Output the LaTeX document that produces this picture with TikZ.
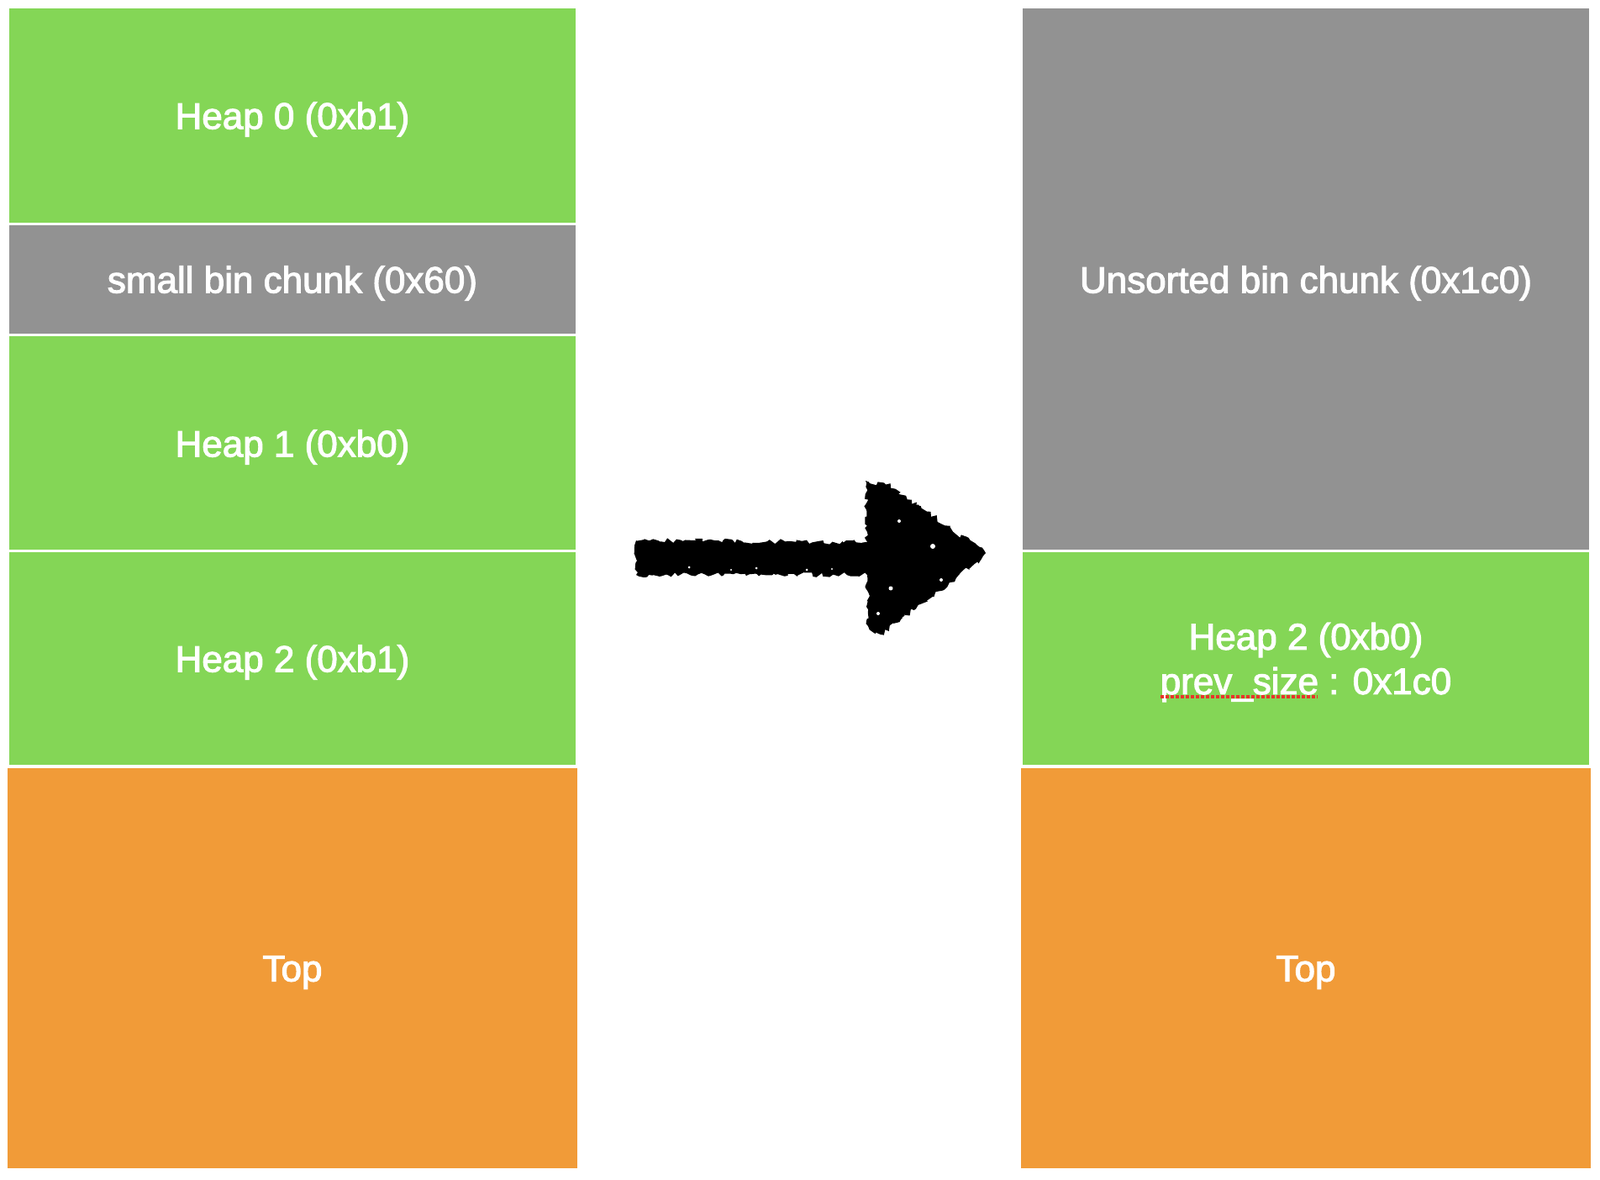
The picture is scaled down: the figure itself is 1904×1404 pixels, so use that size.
\documentclass[tikz,border=0pt]{standalone}
\usepackage{fontspec}
\setmainfont{Liberation Sans}[FakeBold=2.5]
\usetikzlibrary{decorations.pathmorphing}
\definecolor{heapgreen}{HTML}{84D656}
\definecolor{bingray}{HTML}{929292}
\definecolor{toporange}{HTML}{F19B38}
\definecolor{spellred}{HTML}{E8332A}
\tikzset{
  block/.style={inner sep=0pt, font=\fontsize{44}{53}\selectfont, text=white, align=center},
  rough/.style={decorate, decoration={random steps, segment length=4pt, amplitude=3pt}},
}
\begin{document}
\begin{tikzpicture}[x=1pt,y=-1pt]
\useasboundingbox (0,0) rectangle (1904,1404);
% left column
\fill[heapgreen] (11,10) rectangle (685,265);
\fill[bingray] (11,268) rectangle (685,397);
\fill[heapgreen] (11,400) rectangle (685,654);
\fill[heapgreen] (11,657) rectangle (685,910);
\fill[toporange] (9,914) rectangle (687,1390);
\node[block] (h0) at (348,142) {Heap 0 (0xb1)};
\node[block] (sb) at (348,337) {small bin chunk (0x60)};
\node[block] (h1) at (348,532) {Heap 1 (0xb0)};
\node[block] (h2) at (348,788) {Heap 2 (0xb1)};
\node[block] (top1) at (348,1157) {Top};
% right column
\fill[bingray] (1217,10) rectangle (1891,654);
\fill[heapgreen] (1217,657) rectangle (1891,910);
\fill[toporange] (1215,914) rectangle (1893,1390);
\node[block] (us) at (1554,337) {Unsorted bin chunk (0x1c0)};
\node[block] (h2b) at (1554,788) {Heap 2 (0xb0)\\prev\_size : 0x1c0};
\draw[spellred, line width=3.5pt, dash pattern=on 3.5pt off 2.5pt] (1381,829) -- (1568,829);
\node[block] (top2) at (1554,1157) {Top};
% hand-drawn arrow
\fill[black, rough] (757,643) -- (1032,645) -- (1030,572) -- (1060,578) -- (1173,658) -- (1168,665) -- (1048,755) -- (1033,745) -- (1032,684) -- (757,684) -- cycle;
\fill[white] (1110,650) circle (3pt) (1060,700) circle (2.5pt) (1070,620) circle (2pt) (1045,730) circle (2pt) (1095,600) circle (2pt) (1120,690) circle (2pt) (1075,735) circle (1.5pt) (900,676) circle (1.5pt) (960,678) circle (1.5pt) (820,675) circle (1.5pt) (870,678) circle (1.2pt) (990,677) circle (1.2pt);
\end{tikzpicture}
\end{document}
